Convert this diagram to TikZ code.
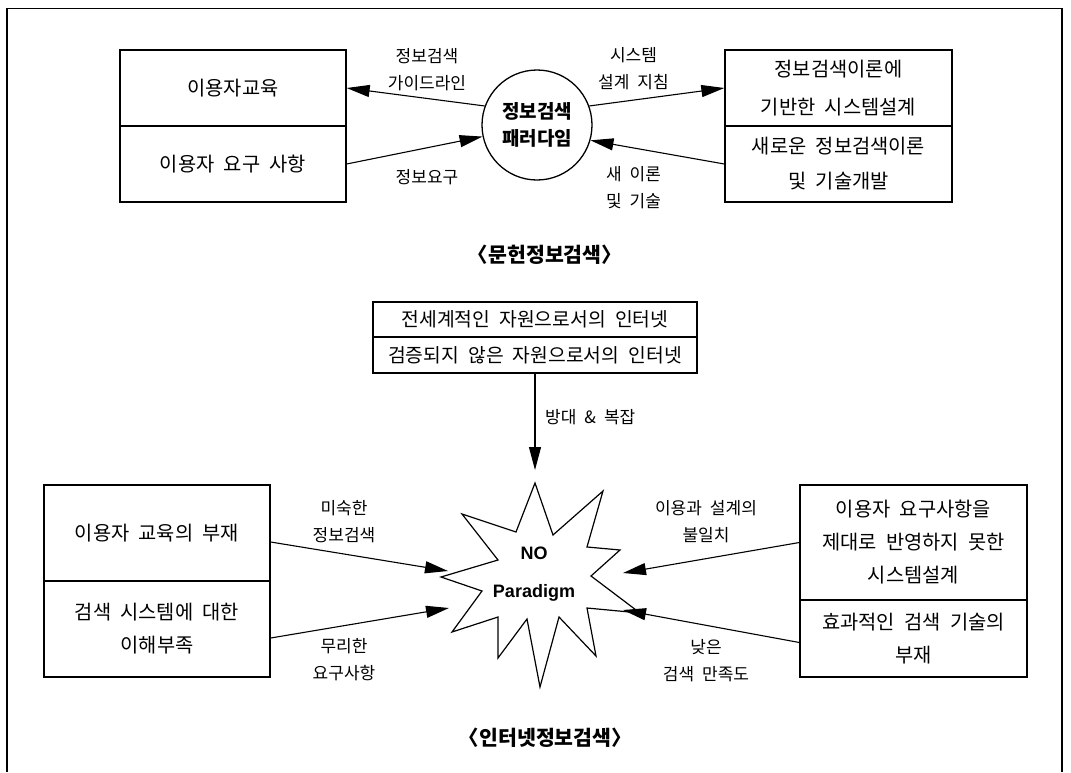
\documentclass[tikz,border=0pt]{standalone}
\usepackage{fontspec}
\newfontfamily\kr[WordSpace=2.1]{Noto Sans CJK KR}
\newfontfamily\lat{Liberation Sans}
\usetikzlibrary{arrows.meta,calc}
\tikzset{
  cell/.style={draw, line width=1.3pt, inner sep=0pt, align=center,
    font=\kr\fontsize{19.8}{33}\selectfont},
  lab/.style={inner sep=0pt, align=center, font=\kr\fontsize{17}{27}\selectfont},
  ttl/.style={inner sep=0pt, font=\kr\bfseries\fontsize{20.5}{24}\selectfont},
  arr/.style={line width=1.1pt, -{Triangle[length=23pt,width=12pt]}},
  star/.style={draw, line width=1.2pt, line join=miter}
}
\begin{document}
\begin{tikzpicture}[x=1pt,y=-1pt]
\useasboundingbox (0,0) rectangle (1071,772);
% frame
\draw[line width=1.3pt] (7,772) -- (7,8.6) -- (1062,8.6) -- (1062,772);

% ---------- top section ----------
\node[cell, minimum width=226pt, minimum height=76pt] (tl1) at (233,88) {이용자교육};
\node[cell, minimum width=226pt, minimum height=76pt] (tl2) at (233,164) {이용자 요구 사항};
\node[cell, minimum width=227pt, minimum height=76pt, font=\kr\fontsize{19.8}{38}\selectfont] (tr1) at (838.5,88) {정보검색이론에\\기반한 시스템설계};
\node[cell, minimum width=227pt, minimum height=76pt, font=\kr\fontsize{19.8}{35}\selectfont] (tr2) at (838.5,164) {새로운 정보검색이론\\및 기술개발};

\node[circle, draw, line width=1.3pt, minimum size=110pt, inner sep=0pt, align=center,
      font=\kr\bfseries\fontsize{19}{27}\selectfont] (circ) at (537,125) {정보검색\\패러다임};

\draw[arr] (circ.160) -- (tl1.east);
\draw[arr] (tl2.east) -- (circ.192);
\draw[arr] (circ.20) -- (tr1.west);
\draw[arr] (tr2.west) -- (circ.-16);

\node[lab] (l1) at (427,70) {정보검색\\가이드라인};
\node[lab] (l2) at (427,177) {정보요구};
\node[lab] (l3) at (633.5,69) {시스템\\설계 지침};
\node[lab] (l4) at (633.5,188) {새 이론\\및 기술};

\node[ttl] (t1) at (545,255) {〈문헌정보검색〉};

% ---------- bottom section ----------
\node[cell, minimum width=324pt, minimum height=35pt, font=\kr\fontsize{19.3}{33}\selectfont] (in1) at (535,319.5) {전세계적인 자원으로서의 인터넷};
\node[cell, minimum width=324pt, minimum height=36pt, font=\kr\fontsize{19.3}{33}\selectfont] (in2) at (535,355) {검증되지 않은 자원으로서의 인터넷};

% starburst
\draw[star] (535,483) -- (553,535) -- (603,491) -- (587,547) -- (620,550) -- (591,576)
  -- (640,613) -- (587,608) -- (596,656) -- (559,617) -- (540,687) -- (527,619)
  -- (498,658) -- (498,617) -- (452,632) -- (482,591) -- (441,577) -- (498,560)
  -- (462,514) -- (516,532) -- cycle;
\node[inner sep=0pt, align=center, font=\lat\bfseries\fontsize{18}{38}\selectfont] (np) at (534,574) {NO\\Paradigm};

\coordinate (intip) at (535,470);
\draw[arr] (in2.south) -- (intip);
\node[lab, anchor=west] (l5) at (545,417) {방대 \& 복잡};

\node[cell, minimum width=226pt, minimum height=96pt] (bl1) at (157,533) {이용자 교육의 부재};
\node[cell, minimum width=226pt, minimum height=96pt] (bl2) at (157,629) {검색 시스템에 대한\\이해부족};
\node[cell, minimum width=227pt, minimum height=115pt] (br1) at (913.5,542.5) {이용자 요구사항을\\제대로 반영하지 못한\\시스템설계};
\node[cell, minimum width=227pt, minimum height=77pt] (br2) at (913.5,638.5) {효과적인 검색 기술의\\부재};

\coordinate (bltip1) at (448,571);
\coordinate (bltip2) at (449,608);
\coordinate (brtip1) at (623,573);
\coordinate (brtip2) at (623,610);

\draw[arr] ([yshift=-9pt]bl1.east) -- (bltip1);
\draw[arr] ([yshift=-9pt]bl2.east) -- (bltip2);
\draw[arr] (br1.west) -- (brtip1);
\draw[arr] ([yshift=-4pt]br2.west) -- (brtip2);

\node[lab] (l6) at (344,522) {미숙한\\정보검색};
\node[lab] (l7) at (344,660) {무리한\\요구사항};
\node[lab] (l8) at (706,522) {이용과 설계의\\불일치};
\node[lab] (l9) at (706,661) {낮은\\검색 만족도};

\node[ttl] (t2) at (545.5,738) {〈인터넷정보검색〉};
\end{tikzpicture}
\end{document}
